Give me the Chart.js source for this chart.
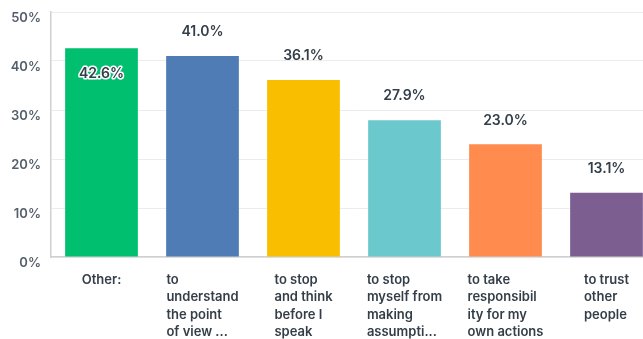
<!DOCTYPE html>
<html>
<head>
    <script src="https://cdn.jsdelivr.net/npm/chart.js@4"></script>
    <style>
        html, body { margin: 0; padding: 0; overflow: hidden; background: #fff; }
        #wrap { width: 660px; height: 339px; }
    </style>
</head>
<body>
    <div id="wrap"><canvas id="answersChart" width="660" height="339"></canvas></div>

    <script>
        const categories = [
            ['Other:'],
            ['to', 'understand', 'the point', 'of view ...'],
            ['to stop', 'and think', 'before I', 'speak'],
            ['to stop', 'myself from', 'making', 'assumpti...'],
            ['to take', 'responsibil', 'ity for my', 'own actions'],
            ['to trust', 'other', 'people']
        ];
        const percents = [42.6, 41.0, 36.1, 27.9, 23.0, 13.1];
        const barColors = ['#00BF6F', '#507CB6', '#F9BE00', '#6BC8CD', '#FF8B4F', '#7D5E90'];

        const textColor = '#333e48';
        const fontFamily = 'Inter, "Noto Sans", sans-serif';

        // value labels above bars (inside when there is no room)
        const valueLabels = {
            id: 'valueLabels',
            afterDatasetsDraw(chart) {
                const ctx = chart.ctx;
                const meta = chart.getDatasetMeta(0);
                ctx.save();
                ctx.font = '600 14px ' + fontFamily;
                ctx.textAlign = 'center';
                ctx.textBaseline = 'middle';
                meta.data.forEach((bar, i) => {
                    const text = percents[i].toFixed(1) + '%';
                    let y = bar.y - 24;
                    if (y < chart.chartArea.top + 16) {
                        y = bar.y + 26;
                        ctx.lineWidth = 3;
                        ctx.strokeStyle = '#ffffff';
                        ctx.lineJoin = 'round';
                        ctx.strokeText(text, bar.x, y);
                    }
                    ctx.fillStyle = textColor;
                    ctx.fillText(text, bar.x, y);
                });
                ctx.restore();
            }
        };

        // category labels: block centred under bar, lines left aligned
        const categoryLabels = {
            id: 'categoryLabels',
            afterDraw(chart) {
                const ctx = chart.ctx;
                const xScale = chart.scales.x;
                ctx.save();
                ctx.font = '600 13px ' + fontFamily;
                ctx.fillStyle = textColor;
                ctx.textAlign = 'left';
                ctx.textBaseline = 'middle';
                categories.forEach((lines, i) => {
                    const cx = xScale.getPixelForValue(i);
                    const w = Math.max(...lines.map(l => ctx.measureText(l).width));
                    const left = cx - w / 2;
                    lines.forEach((line, j) => {
                        ctx.fillText(line, left, chart.chartArea.bottom + 23 + j * 17.3);
                    });
                });
                ctx.restore();
            }
        };

        new Chart(document.getElementById('answersChart'), {
            type: 'bar',
            data: {
                labels: categories,
                datasets: [{
                    data: percents,
                    backgroundColor: barColors,
                    borderWidth: 0,
                    barPercentage: 0.72,
                    categoryPercentage: 1.0
                }]
            },
            options: {
                responsive: false,
                animation: false,
                layout: {
                    padding: { top: 12, bottom: 0, left: 0, right: 3 }
                },
                plugins: {
                    legend: { display: false },
                    tooltip: { enabled: false }
                },
                scales: {
                    x: {
                        grid: { display: false, drawTicks: false },
                        border: { color: '#d0d0d0', width: 1.5 },
                        ticks: { display: false },
                        afterFit: s => { s.height = 82; s.paddingLeft = 0; s.paddingRight = 0; }
                    },
                    y: {
                        min: 0,
                        max: 50,
                        grid: { color: '#ececec', drawTicks: false },
                        border: { color: '#d0d0d0', width: 1.5 },
                        ticks: {
                            stepSize: 10,
                            padding: 10,
                            labelOffset: 6,
                            color: '#555f6b',
                            font: { family: fontFamily, size: 13, weight: '600' },
                            callback: v => v + '%'
                        },
                        afterFit: s => { s.width = 51; s.paddingTop = 0; s.paddingBottom = 0; }
                    }
                }
            },
            plugins: [valueLabels, categoryLabels]
        });
    </script>
</body>
</html>
